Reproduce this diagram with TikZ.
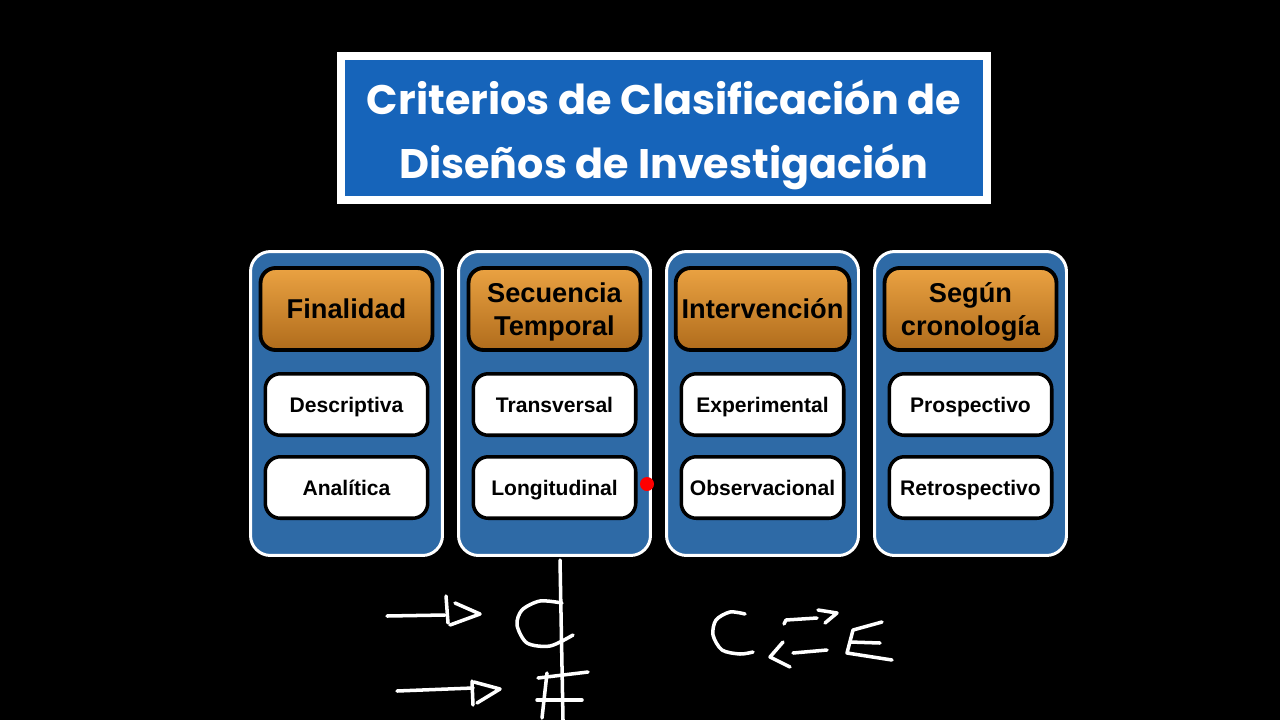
\documentclass[tikz,border=0pt]{standalone}
\usepackage{fontspec}
\setmainfont{Liberation Sans}
\newfontfamily\titlefont{Poppins}
\usepackage{tikz}
\definecolor{titleblue}{RGB}{22,100,186}
\definecolor{colblue}{RGB}{46,106,166}
\definecolor{orangetop}{RGB}{234,162,66}
\definecolor{orangebot}{RGB}{176,108,28}
\tikzset{
	titlebox/.style={draw=white, line width=4.5pt, fill=titleblue, minimum width=12.92cm, minimum height=2.88cm},
	titletext/.style={align=center, text=white, font=\titlefont\fontsize{23.5}{36}\selectfont\bfseries},
	colbox/.style={draw=white, line width=1.7pt, fill=colblue, rounded corners=0.4cm, minimum width=3.84cm, minimum height=6.08cm},
	headbox/.style={draw=black, line width=2.2pt, rounded corners=0.3cm, top color=orangetop, bottom color=orangebot, minimum width=3.44cm, minimum height=1.64cm, align=center, text depth=0pt, font=\fontsize{15.5}{19}\selectfont\bfseries},
	itembox/.style={draw=black, line width=2pt, fill=white, rounded corners=0.3cm, minimum width=3.25cm, minimum height=1.23cm, text height=8.6pt, text depth=0pt, font=\fontsize{12}{14}\selectfont\bfseries},
	hand/.style={white, line width=2pt, line cap=round, line join=round}
}
\begin{document}
\begin{tikzpicture}[x=0.02cm, y=-0.02cm]
				\fill[black] (0,0) rectangle (1280,720);
				\useasboundingbox (0,0) rectangle (1280,720);
				\node[titlebox] (title) at (664,128) {};
				\node[titletext] (titletext) at (664,135) {Criterios de Clasificación de\\Diseños de Investigación};
				\foreach \n/\x/\head/\a/\b in {1/346.5/Finalidad/Descriptiva/Analítica, 2/554.5/{Secuencia\\Temporal}/Transversal/Longitudinal, 3/762.5/Intervención/Experimental/Observacional, 4/970.5/{Según\\cronología}/Prospectivo/Retrospectivo} {
					\node[colbox] (col\n) at (\x,403.5) {};
					\node[headbox] (head\n) at (\x,309) {\head};
					\node[itembox] (itemA\n) at (\x,404.5) {\a};
					\node[itembox] (itemB\n) at (\x,487.5) {\b};
				}
				\fill[red] (647,484) circle (0.14cm);
				\draw[hand] (560,560) -- (563,720);
				\draw[hand] (387,616) -- (445,615);
				\draw[hand] (446,596) -- (448,623);
				\draw[hand] (455,603) -- (480,614) -- (450,625);
				\draw[hand] plot[smooth] coordinates {(562,603) (540,601) (522,610) (517,625) (527,643) (550,646) (573,635)};
				\draw[hand] (397,691) -- (473,688);
				\draw[hand] (472,681) -- (473,705);
				\draw[hand] (474,682) -- (500,689) -- (477,703);
				\draw[hand] (547,673) -- (542,718);
				\draw[hand] (538,678) -- (588,672);
				\draw[hand] (537,700) -- (582,700);
				\draw[hand] plot[smooth] coordinates {(745,614) (730,612) (716,620) (713,635) (722,650) (740,654) (753,652)};
				\draw[hand] (784,624) -- (786,620) -- (817,618);
				\draw[hand] (818,610) -- (837,613) -- (825,623);
				\draw[hand] (793,653) -- (827,650);
				\draw[hand] (783,642) -- (770,657) -- (790,667);
				\draw[hand] (853,630) -- (847,653) -- (892,660);
				\draw[hand] (853,630) -- (882,622);
				\draw[hand] (850,642) -- (880,643);
			\end{tikzpicture}
\end{document}
